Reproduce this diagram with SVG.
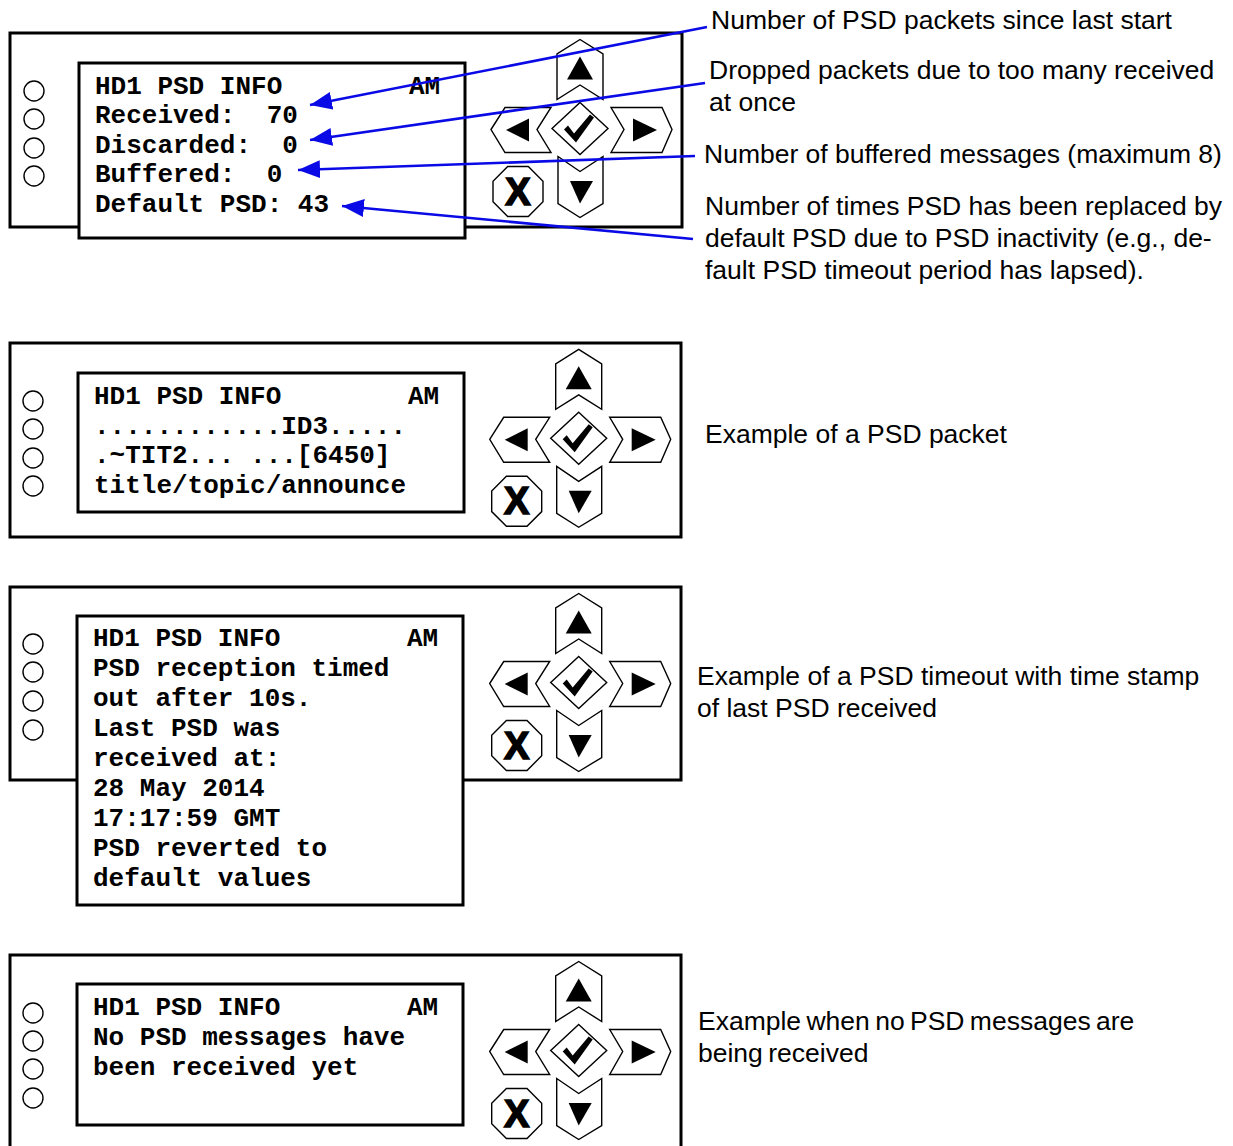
<svg xmlns="http://www.w3.org/2000/svg" xmlns:xlink="http://www.w3.org/1999/xlink" width="1233" height="1146" viewBox="0 0 1233 1146">
<style>
.outer{fill:#fff;stroke:#000;stroke-width:3}
.lcd{fill:#fff;stroke:#000;stroke-width:3}
.led{fill:#fff;stroke:#000;stroke-width:1.4}
.btn{fill:#fff;stroke:#000;stroke-width:1.4;stroke-linejoin:miter}
.glyph{fill:#000;stroke:none}
.mono{font-family:"Liberation Mono","Courier New",monospace;font-weight:bold;font-size:26px;fill:#000}
.lbl{font-family:"Liberation Sans",Arial,sans-serif;font-size:26.5px;fill:#000}
.xkey{font-family:"Liberation Sans",Arial,sans-serif;font-weight:bold;font-size:38px;fill:#000;stroke:#000;stroke-width:1.6}
.arrow{stroke:#0a0ae6;stroke-width:2.6;fill:none}
</style>
<defs>
<marker id="ah" markerUnits="userSpaceOnUse" markerWidth="24" markerHeight="20" refX="22" refY="9" orient="auto">
<path d="M0,0 L22,9 L0,18 z" fill="#0a0ae6"/>
</marker>
<g id="keypad">
<polygon class="btn" points="0,-89 -23,-74.5 -23,-29 0,-43.5 23,-29 23,-74.5"/>
<polygon class="glyph" points="0,-72 -13,-49 13,-49"/>
<polygon class="btn" points="-89,1 -75,-21 -29,-21 -43,1 -29,24 -75,24"/>
<polygon class="glyph" points="-74,1.5 -51,-10 -51,13"/>
<polygon class="btn" points="31,-21 82,-21 92,1 82,24 31,24 44,1"/>
<polygon class="glyph" points="53,-10 53,13 77,1.5"/>
<polygon class="btn" points="-22,28 0,43 23,28 23,75 0,89 -22,75"/>
<polygon class="glyph" points="-10,52.5 13,52.5 0,75"/>
<polygon class="btn" points="0,-26 28,0 0,26 -28,0"/>
<polygon class="glyph" points="-16,1 -12,-3 -6,5 10,-14 14,-11 -4,14"/>
<polygon class="btn" points="-72.3,38 -51.7,38 -37,52.7 -37,73.3 -51.7,88 -72.3,88 -87,73.3 -87,52.7"/>
<text class="xkey" x="-62" y="76" text-anchor="middle">X</text>
</g>
</defs>
<rect width="1233" height="1146" fill="#fff"/>

<g id="panel1">
<rect class="outer" x="10" y="33" width="672" height="194"/>
<rect class="lcd" x="79" y="63" width="386" height="175"/>
<circle class="led" cx="34" cy="91" r="10"/>
<circle class="led" cx="34" cy="119" r="10"/>
<circle class="led" cx="34" cy="148" r="10"/>
<circle class="led" cx="34" cy="176" r="10"/>
<text class="mono" x="95" y="94">HD1 PSD INFO</text>
<text class="mono" x="409" y="94">AM</text>
<text class="mono" x="95" y="123" xml:space="preserve">Received:  70</text>
<text class="mono" x="95" y="153" xml:space="preserve">Discarded:  0</text>
<text class="mono" x="95" y="182" xml:space="preserve">Buffered:  0</text>
<text class="mono" x="95" y="212" xml:space="preserve">Default PSD: 43</text>
<use xlink:href="#keypad" href="#keypad" x="580" y="128.5"/>
</g>

<g id="panel2">
<rect class="outer" x="10" y="343" width="671" height="194"/>
<rect class="lcd" x="78" y="373" width="386" height="139"/>
<circle class="led" cx="33" cy="401" r="10"/>
<circle class="led" cx="33" cy="429" r="10"/>
<circle class="led" cx="33" cy="458" r="10"/>
<circle class="led" cx="33" cy="486" r="10"/>
<text class="mono" x="94" y="404">HD1 PSD INFO</text>
<text class="mono" x="408" y="404">AM</text>
<text class="mono" x="94" y="434" xml:space="preserve">............ID3.....</text>
<text class="mono" x="94" y="463" xml:space="preserve">.~TIT2... ...[6450]</text>
<text class="mono" x="94" y="493" xml:space="preserve">title/topic/announce</text>
<use xlink:href="#keypad" href="#keypad" x="578.7" y="438.3"/>
</g>

<g id="panel3">
<rect class="outer" x="10" y="587" width="671" height="193"/>
<rect class="lcd" x="77" y="616" width="386" height="289"/>
<circle class="led" cx="33" cy="644" r="10"/>
<circle class="led" cx="33" cy="672" r="10"/>
<circle class="led" cx="33" cy="701" r="10"/>
<circle class="led" cx="33" cy="730" r="10"/>
<text class="mono" x="93" y="646">HD1 PSD INFO</text>
<text class="mono" x="407" y="646">AM</text>
<text class="mono" x="93" y="676">PSD reception timed</text>
<text class="mono" x="93" y="706">out after 10s.</text>
<text class="mono" x="93" y="736">Last PSD was</text>
<text class="mono" x="93" y="766">received at:</text>
<text class="mono" x="93" y="796">28 May 2014</text>
<text class="mono" x="93" y="826">17:17:59 GMT</text>
<text class="mono" x="93" y="856">PSD reverted to</text>
<text class="mono" x="93" y="886">default values</text>
<use xlink:href="#keypad" href="#keypad" x="578.7" y="682.5"/>
</g>

<g id="panel4">
<rect class="outer" x="10" y="955" width="671" height="200"/>
<rect class="lcd" x="77" y="984" width="386" height="141"/>
<circle class="led" cx="33" cy="1013" r="10"/>
<circle class="led" cx="33" cy="1041" r="10"/>
<circle class="led" cx="33" cy="1069" r="10"/>
<circle class="led" cx="33" cy="1098" r="10"/>
<text class="mono" x="93" y="1015">HD1 PSD INFO</text>
<text class="mono" x="407" y="1015">AM</text>
<text class="mono" x="93" y="1045">No PSD messages have</text>
<text class="mono" x="93" y="1075">been received yet</text>
<use xlink:href="#keypad" href="#keypad" x="578.7" y="1050.5"/>
</g>

<g id="labels">
<text class="lbl" x="711" y="29">Number of PSD packets since last start</text>
<text class="lbl" x="709" y="79">Dropped packets due to too many received</text>
<text class="lbl" x="709" y="111">at once</text>
<text class="lbl" x="704" y="163">Number of buffered messages (maximum 8)</text>
<text class="lbl" x="705" y="215">Number of times PSD has been replaced by</text>
<text class="lbl" x="705" y="247">default PSD due to PSD inactivity (e.g., de-</text>
<text class="lbl" x="705" y="279">fault PSD timeout period has lapsed).</text>
<text class="lbl" x="705" y="443">Example of a PSD packet</text>
<text class="lbl" x="697" y="685">Example of a PSD timeout with time stamp</text>
<text class="lbl" x="697" y="717">of last PSD received</text>
<text class="lbl" x="698" y="1030" style="word-spacing:-2px">Example when no PSD messages are</text>
<text class="lbl" x="698" y="1062" style="word-spacing:-2px">being received</text>
</g>

<g id="connectors">
<line class="arrow" x1="707" y1="27" x2="310" y2="105" marker-end="url(#ah)"/>
<line class="arrow" x1="705" y1="83" x2="310" y2="140" marker-end="url(#ah)"/>
<line class="arrow" x1="695" y1="156" x2="298" y2="170" marker-end="url(#ah)"/>
<line class="arrow" x1="693" y1="239" x2="342" y2="206" marker-end="url(#ah)"/>
</g>
</svg>
